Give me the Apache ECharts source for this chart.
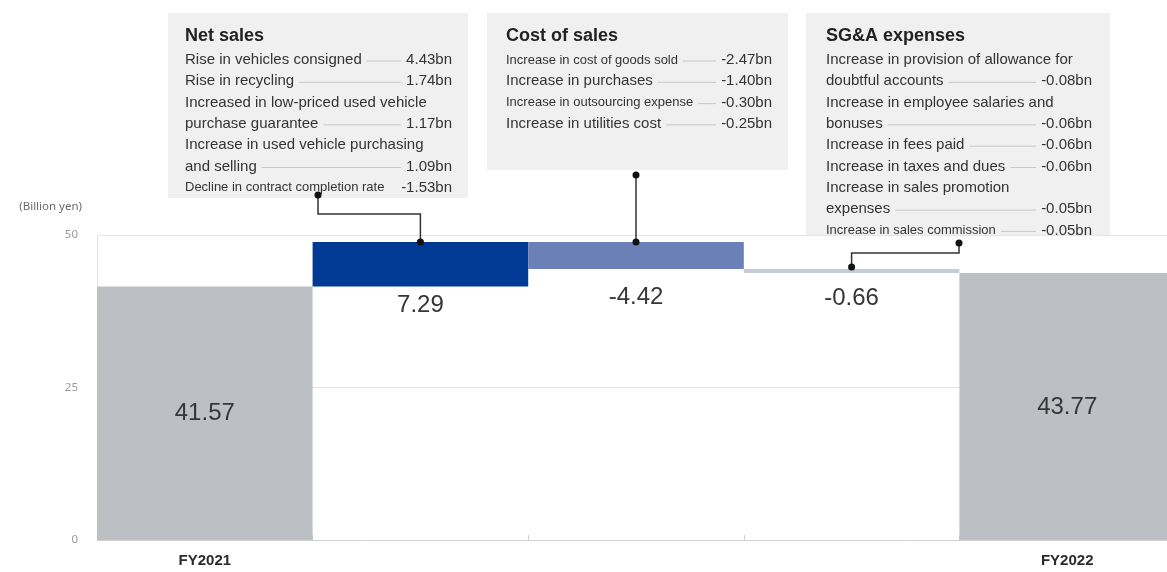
<!DOCTYPE html>
<html>
<head>
<meta charset="utf-8">
<title>Operating profit bridge FY2021 - FY2022</title>
<script src="https://cdn.jsdelivr.net/npm/echarts@6/dist/echarts.min.js"></script>
<style>
  html, body { margin: 0; padding: 0; background: #fff; overflow: hidden; }
  /* the last bar runs past the right edge of the picture, as in the original slide */
  #chart { width: 1175px; height: 572px; }
</style>
</head>
<body>
<div id="chart"></div>
<script>
// ---- data ----
const categories = ['FY2021', 'Net sales', 'Cost of sales', 'SG&A expenses', 'FY2022'];
const startValue = 41.57;
const endValue = 43.77;
const changes = [7.29, -4.42, -0.66];
const yMin = 0, yMax = 50, yStep = 25;

const netSalesItems = [
    ['Rise in vehicles consigned', '4.43bn'],
    ['Rise in recycling', '1.74bn'],
    ['Increased in low-priced used vehicle', null],
    ['purchase guarantee', '1.17bn'],
    ['Increase in used vehicle purchasing', null],
    ['and selling', '1.09bn'],
    ['Decline in contract completion rate', '-1.53bn', 'small']
];
const costItems = [
    ['Increase in cost of goods sold', '-2.47bn', 'small'],
    ['Increase in purchases', '-1.40bn'],
    ['Increase in outsourcing expense', '-0.30bn', 'small'],
    ['Increase in utilities cost', '-0.25bn']
];
const sgaItems = [
    ['Increase in provision of allowance for', null],
    ['doubtful accounts', '-0.08bn'],
    ['Increase in employee salaries and', null],
    ['bonuses', '-0.06bn'],
    ['Increase in fees paid', '-0.06bn'],
    ['Increase in taxes and dues', '-0.06bn'],
    ['Increase in sales promotion', null],
    ['expenses', '-0.05bn'],
    ['Increase in sales commission', '-0.05bn', 'small']
];

// waterfall: invisible base + visible step
let running = startValue;
const baseData = [0];
const stepData = [startValue];
const shownValues = [startValue];
changes.forEach(c => {
    const next = running + c;
    baseData.push(Math.min(running, next));
    stepData.push(Math.abs(c));
    shownValues.push(c);
    running = next;
});
baseData.push(0);
stepData.push(endValue);
shownValues.push(endValue);

const barColors = ['#bcc0c4', '#003a94', '#6a80b6', '#c6ccd6', '#bcc0c4'];
const labelOffsets = [127, 63, 55, 29, 134];

const chart = echarts.init(document.getElementById('chart'));

const option = {
    animation: false,
    grid: {left: 97, right: 0, top: 235, bottom: 32, containLabel: false},
    xAxis: {
        type: 'category',
        data: categories,
        axisLine: {lineStyle: {color: '#d0d0d0'}},
        axisTick: {show: true, inside: true, length: 5, lineStyle: {color: '#cfcfcf'}},
        axisLabel: {
            margin: 13,
            color: '#2b2b2b',
            fontWeight: 'bold',
            fontSize: 15,
            fontFamily: '"Liberation Sans", Arial, sans-serif',
            formatter: v => (v.indexOf('FY') === 0 ? v : '')
        }
    },
    yAxis: {
        type: 'value',
        min: yMin,
        max: yMax,
        interval: yStep,
        name: '(Billion yen)',
        nameLocation: 'end',
        nameGap: 22,
        nameTextStyle: {align: 'right', padding: [0, 15, 0, 0], color: '#6a6a6a', fontSize: 11.5, fontFamily: '"Noto Sans", sans-serif'},
        axisLine: {show: true, lineStyle: {color: '#e2e2e2'}},
        axisTick: {show: false},
        axisLabel: {margin: 19, color: '#9a9a9a', fontSize: 11.5, fontFamily: '"Noto Sans", sans-serif'},
        splitLine: {lineStyle: {color: '#e6e6e6'}}
    },
    series: [
        {
            type: 'bar',
            stack: 'wf',
            data: baseData,
            itemStyle: {color: 'transparent'},
            barCategoryGap: 0,
            silent: true
        },
        {
            type: 'bar',
            stack: 'wf',
            barCategoryGap: 0,
            data: stepData.map((v, i) => ({
                value: v,
                itemStyle: {color: barColors[i]},
                label: {position: ['50%', labelOffsets[i]]}
            })),
            label: {
                show: true,
                align: 'center',
                verticalAlign: 'middle',
                fontSize: 24,
                color: '#363636',
                fontFamily: '"Liberation Sans", Arial, sans-serif',
                formatter: p => shownValues[p.dataIndex].toFixed(2)
            }
        }
    ]
};
chart.setOption(option);

// ---- annotation boxes and connectors ----
const ctx = document.createElement('canvas').getContext('2d');
const rowFont = '15px "Liberation Sans", Arial, sans-serif';
const smallFont = '13px "Liberation Sans", Arial, sans-serif';
const titleFont = 'bold 18px "Liberation Sans", Arial, sans-serif';
function textWidth(t, font){
    ctx.font = font;
    return ctx.measureText(t).width;
}

const boxes = [
    {title: 'Net sales', items: netSalesItems, x: 168, y: 13, w: 300, h: 185, textLeft: 185, textRight: 452},
    {title: 'Cost of sales', items: costItems, x: 487, y: 13, w: 301, h: 157, textLeft: 506, textRight: 772},
    {title: 'SG&A expenses', items: sgaItems, x: 806, y: 13, w: 304, h: 222, textLeft: 826, textRight: 1092}
];

const graphics = [];
boxes.forEach(b => {
    graphics.push({type: 'rect', z: 100, shape: {x: b.x, y: b.y, width: b.w, height: b.h}, style: {fill: '#f0f0f0'}});
    graphics.push({type: 'text', z: 101, style: {x: b.textLeft, y: 36, text: b.title, font: titleFont, fill: '#222', align: 'left', verticalAlign: 'middle'}});
    b.items.forEach((it, i) => {
        const y = 60 + 21.3 * i;
        const font = it[2] === 'small' ? smallFont : rowFont;
        graphics.push({type: 'text', z: 101, style: {x: b.textLeft, y: y, text: it[0], font: font, fill: '#333', align: 'left', verticalAlign: 'middle'}});
        if(it[1]){
            graphics.push({type: 'text', z: 101, style: {x: b.textRight, y: y, text: it[1], font: rowFont, fill: '#333', align: 'right', verticalAlign: 'middle'}});
            const x1 = b.textLeft + textWidth(it[0], font) + 5;
            const x2 = b.textRight - textWidth(it[1], rowFont) - 5;
            if(x2 - x1 > 10){
                graphics.push({type: 'line', z: 101, shape: {x1: x1, y1: y + 1, x2: x2, y2: y + 1}, style: {stroke: '#c8c8c8', lineWidth: 1}});
            }
        }
    });
});

// dots on the bars
const netTop = chart.convertToPixel({gridIndex: 0}, [categories[1], startValue + changes[0]]);
const costTop = chart.convertToPixel({gridIndex: 0}, [categories[2], baseData[2] + stepData[2]]);
const sgaTop = chart.convertToPixel({gridIndex: 0}, [categories[3], baseData[3] + stepData[3]]);

const connectors = [
    [[318, 195], [318, 214], [netTop[0], 214], [netTop[0], netTop[1]]],
    [[costTop[0], 175], [costTop[0], costTop[1]]],
    [[959, 243], [959, 253], [sgaTop[0], 253], [sgaTop[0], sgaTop[1] - 2]]
];
connectors.forEach(pts => {
    graphics.push({type: 'polyline', z: 102, shape: {points: pts}, style: {stroke: '#333', lineWidth: 1.5, fill: null}});
    [pts[0], pts[pts.length - 1]].forEach(p => {
        graphics.push({type: 'circle', z: 103, shape: {cx: p[0], cy: p[1], r: 3.5}, style: {fill: '#111'}});
    });
});

chart.setOption({graphic: graphics});
</script>
</body>
</html>
